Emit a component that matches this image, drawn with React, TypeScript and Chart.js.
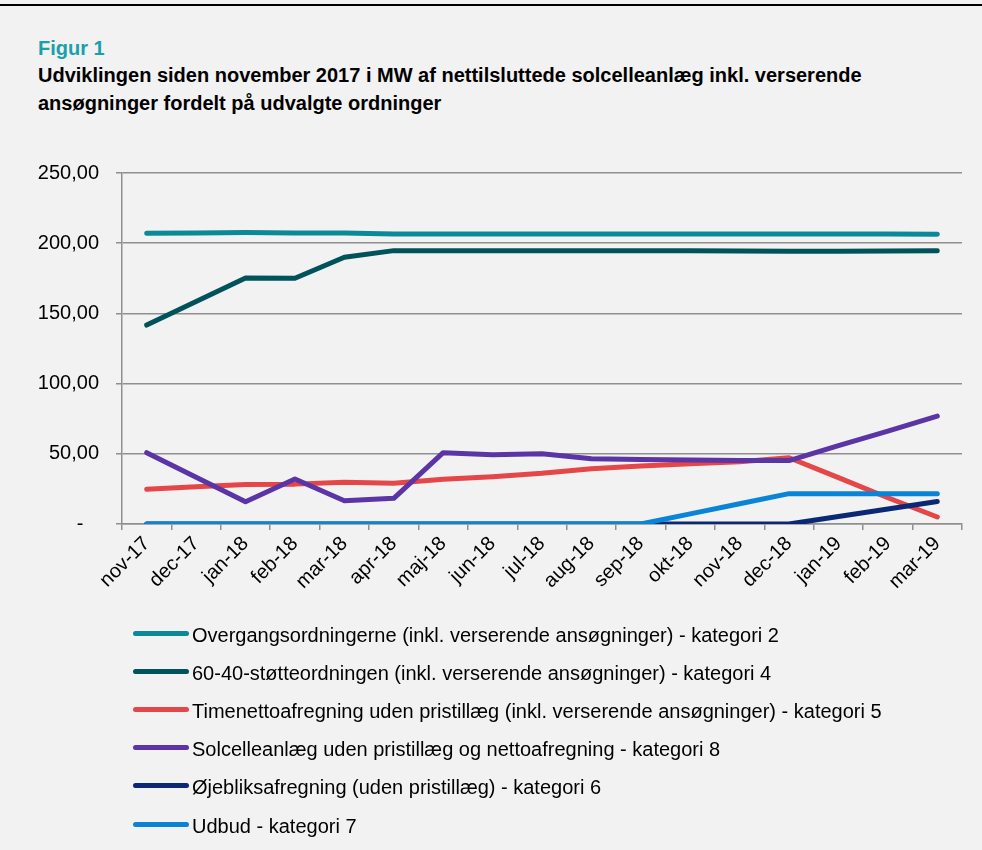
import React, { useEffect, useRef } from "react";
import { Chart, registerables } from "chart.js";

Chart.register(...registerables);

const months = [
  "nov-17", "dec-17", "jan-18", "feb-18", "mar-18", "apr-18", "maj-18", "jun-18", "jul-18",
  "aug-18", "sep-18", "okt-18", "nov-18", "dec-18", "jan-19", "feb-19", "mar-19",
];

const overgang = [207, 207.3, 207.6, 207.2, 207.2, 206.6, 206.6, 206.6, 206.6, 206.6, 206.6, 206.6, 206.6, 206.6, 206.5, 206.5, 206.4];
const stoette6040 = [141.7, 158.5, 175.2, 175, 190, 194.7, 194.7, 194.7, 194.7, 194.7, 194.7, 194.6, 194.4, 194.2, 194.3, 194.5, 194.6];
const timenetto = [24.7, 26.5, 28.2, 28.4, 29.7, 29.1, 31.8, 33.7, 36.1, 39.4, 41.3, 43, 44.4, 47.2, 33, 18.7, 5];
const solcelle = [50.8, 33.3, 15.9, 32, 16.6, 18.3, 50.8, 49.4, 50, 46.5, 46, 45.5, 45.2, 45.2, 55.8, 66.2, 76.9];
const oejebliks = [0, 0, 0, 0, 0, 0, 0, 0, 0, 0, 0, 0, 0, 0, 5.3, 10.7, 16];
const udbud = [0, 0, 0, 0, 0, 0, 0, 0, 0, 0, 0, 7.2, 14.4, 21.6, 21.6, 21.6, 21.6];

const seriesNames = [
  "Overgangsordningerne (inkl. verserende ansøgninger) - kategori 2",
  "60-40-støtteordningen (inkl. verserende ansøgninger) - kategori 4",
  "Timenettoafregning uden pristillæg (inkl. verserende ansøgninger) - kategori 5",
  "Solcelleanlæg uden pristillæg og nettoafregning - kategori 8",
  "Øjebliksafregning (uden pristillæg) - kategori 6",
  "Udbud - kategori 7",
];
const seriesValues = [overgang, stoette6040, timenetto, solcelle, oejebliks, udbud];
const seriesColors = ["#0a8a96", "#00535a", "#e54648", "#5b35a5", "#0b2875", "#0a84d6"];

const FONT = "'Liberation Sans', Arial, sans-serif";
const GRID = "#8f8f8f";

export default function App() {
  const ref = useRef<HTMLCanvasElement | null>(null);

  useEffect(() => {
    if (!ref.current) return;
    const chart = new Chart(ref.current, {
      type: "line",
      data: {
        labels: months,
        datasets: seriesValues.map((vals, i) => ({
          label: seriesNames[i],
          data: vals,
          borderColor: seriesColors[i],
          backgroundColor: seriesColors[i],
          borderWidth: 5,
          borderCapStyle: "round" as const,
          borderJoinStyle: "round" as const,
          pointRadius: 0,
          tension: 0,
          fill: false,
          order: 10 - i,
        })),
      },
      options: {
        animation: false,
        responsive: false,
        maintainAspectRatio: false,
        layout: { padding: { left: 0, right: 20, top: 17, bottom: 0 } },
        plugins: {
          legend: { display: false },
          tooltip: { enabled: false },
          title: { display: false },
        },
        scales: {
          x: {
            type: "category",
            offset: true,
            grid: {
              display: true,
              drawOnChartArea: false,
              drawTicks: true,
              tickLength: 6,
              color: GRID,
              lineWidth: 1.5,
              offset: true,
            },
            border: { display: true, color: GRID, width: 1.5 },
            ticks: {
              autoSkip: false,
              minRotation: 45,
              maxRotation: 45,
              padding: 2,
              color: "#000",
              font: { family: FONT, size: 20 },
            },
            afterFit: (s: any) => {
              s.height = 96;
            },
          },
          y: {
            min: 0,
            max: 250,
            grid: {
              color: GRID,
              lineWidth: 1.5,
              drawTicks: true,
              tickLength: 6,
            },
            border: { display: true, color: GRID, width: 1.5 },
            ticks: {
              stepSize: 50,
              padding: 17,
              color: "#000",
              font: { family: FONT, size: 20 },
              callback: (v: any) =>
                Number(v) === 0 ? "- \u2002" : Number(v).toFixed(2).replace(".", ","),
            },
            afterFit: (s: any) => {
              s.width = 122;
            },
          },
        },
      },
    });
    return () => chart.destroy();
  }, []);

  const legendTop = 615.5;
  const legendStep = 38.2;

  return (
    <div
      style={{
        position: "absolute",
        left: 0,
        top: 0,
        width: 982,
        height: 850,
        background: "#f2f2f2",
        fontFamily: FONT,
        overflow: "hidden",
      }}
    >
      <div style={{ position: "absolute", left: 0, top: 4, width: 982, height: 2, background: "#000" }} />
      <div
        style={{
          position: "absolute",
          left: 38,
          top: 34,
          fontSize: 20,
          lineHeight: "28px",
          fontWeight: "bold",
          color: "#19a0aa",
          whiteSpace: "nowrap",
        }}
      >
        Figur 1
      </div>
      <div
        style={{
          position: "absolute",
          left: 38,
          top: 61,
          fontSize: 20,
          lineHeight: "28px",
          fontWeight: "bold",
          color: "#000",
          whiteSpace: "nowrap",
        }}
      >
        Udviklingen siden november 2017 i MW af nettilsluttede solcelleanlæg inkl. verserende
        <br />
        ansøgninger fordelt på udvalgte ordninger
      </div>
      <canvas
        ref={ref}
        width={982}
        height={476}
        style={{ position: "absolute", left: 0, top: 144, width: 982, height: 476 }}
      />
      {seriesNames.map((name, i) => (
        <div
          key={name}
          style={{
            position: "absolute",
            left: 0,
            top: legendTop + i * legendStep,
            height: 38,
            width: 982,
          }}
        >
          <span
            style={{
              position: "absolute",
              left: 133,
              top: 15,
              width: 56,
              height: 5,
              borderRadius: 3,
              background: seriesColors[i],
            }}
          />
          <span
            style={{
              position: "absolute",
              left: 192,
              top: 0,
              fontSize: 20,
              lineHeight: "38px",
              color: "#000",
              whiteSpace: "nowrap",
            }}
          >
            {name}
          </span>
        </div>
      ))}
    </div>
  );
}
